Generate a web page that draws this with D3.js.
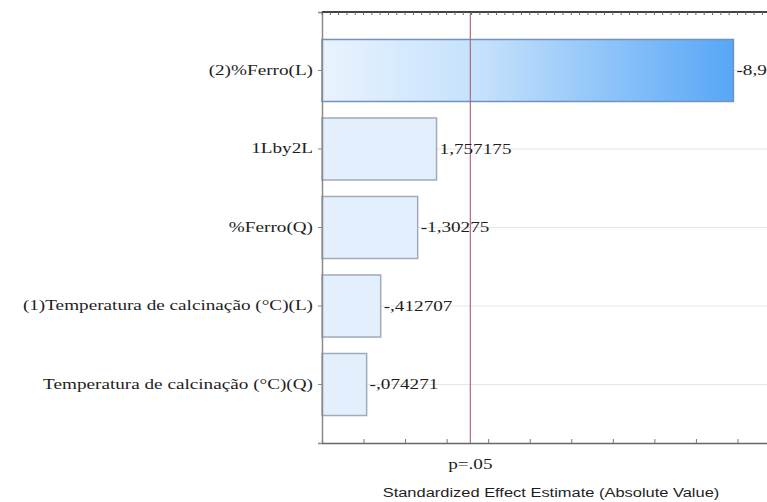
<!DOCTYPE html>
<html>
<head>
<meta charset="utf-8">
<script src="https://cdn.jsdelivr.net/npm/d3@7"></script>
<style>
  html, body { margin: 0; padding: 0; background: #fff; overflow: hidden; }
  svg { display: block; }
</style>
</head>
<body>
<svg id="chart" width="767" height="502"></svg>
<script>
// Pareto chart of standardized effects
const effects = [
  "(2)%Ferro(L)",
  "1Lby2L",
  "%Ferro(Q)",
  "(1)Temperatura de calcinação (°C)(L)",
  "Temperatura de calcinação (°C)(Q)"
];
const estimates = [-8.90342, 1.757175, -1.30275, -0.412707, -0.074271];
const pCritical = 2.5706;          // t critical value at p = .05
const pLabel = "p=.05";
const xTitle = "Standardized Effect Estimate (Absolute Value)";
const xDomain = [-1, 10];
const xMajorTicks = d3.range(-1, 11, 1);
const xMinorTicks = d3.range(-1, 10.01, 0.2);

const plot = { left: 322, right: 779, top: 12, bottom: 443 };
const STRETCH = 1.37;   // horizontal text stretch
const TEXT = "#1e1e1e";

const svg = d3.select("#chart");

const x = d3.scaleLinear().domain(xDomain).range([plot.left, plot.right]);
const y = d3.scaleBand().domain(effects)
  .range([plot.top, plot.bottom])
  .paddingInner(0.21).paddingOuter(0.35);

function stretchText(sel) {
  sel.each(function () {
    const len = this.getComputedTextLength();
    d3.select(this).attr("textLength", len * STRETCH).attr("lengthAdjust", "spacingAndGlyphs");
  });
}

function fmt(v) {
  return String(v).replace(/^(-?)0\./, "$1.").replace(".", ",");
}

// gradient for the dominant bar
const defs = svg.append("defs");
const grad = defs.append("linearGradient").attr("id", "barGrad")
  .attr("x1", "0%").attr("x2", "100%").attr("y1", "0%").attr("y2", "0%");
grad.append("stop").attr("offset", "0%").attr("stop-color", "#e9f3fe");
grad.append("stop").attr("offset", "40%").attr("stop-color", "#c3e0fc");
grad.append("stop").attr("offset", "100%").attr("stop-color", "#57a6f6");

// horizontal grid lines at each effect
svg.append("g").selectAll("line").data(effects).join("line")
  .attr("x1", plot.left).attr("x2", plot.right)
  .attr("y1", d => y(d) + y.bandwidth() / 2).attr("y2", d => y(d) + y.bandwidth() / 2)
  .attr("stroke", "#e6e6e6").attr("stroke-width", 1);

// bars
const rows = effects.map((e, i) => ({ effect: e, value: estimates[i] }));
svg.append("g").selectAll("rect").data(rows).join("rect")
  .attr("x", x(xDomain[0]))
  .attr("y", d => y(d.effect))
  .attr("width", d => x(Math.abs(d.value)) - x(xDomain[0]))
  .attr("height", y.bandwidth())
  .attr("fill", (d, i) => i === 0 ? "url(#barGrad)" : "#e3effc")
  .attr("stroke", (d, i) => i === 0 ? "#6f93bd" : "#9fabb9")
  .attr("stroke-width", 1.5);

// critical value line
svg.append("line")
  .attr("x1", x(pCritical)).attr("x2", x(pCritical))
  .attr("y1", plot.top).attr("y2", plot.bottom)
  .attr("stroke", "#b4687e").attr("stroke-width", 1.2);

// value labels
svg.append("g").selectAll("text").data(rows).join("text")
  .attr("x", d => x(Math.abs(d.value)) + 3)
  .attr("y", d => y(d.effect) + y.bandwidth() / 2)
  .attr("dy", "0.35em")
  .attr("font-family", "Liberation Serif, Times New Roman, serif")
  .attr("font-size", 14)
  .attr("fill", TEXT)
  .text(d => fmt(d.value))
  .call(stretchText);

// left axis
const yAxis = svg.append("g").attr("transform", `translate(${plot.left},0)`)
  .call(d3.axisLeft(y).tickSize(4).tickPadding(5));
yAxis.select(".domain").attr("stroke", "#8a8a8a").attr("stroke-width", 1.5);
yAxis.selectAll(".tick line").attr("stroke", "#8a8a8a");
yAxis.selectAll(".tick text")
  .attr("font-family", "Liberation Serif, Times New Roman, serif")
  .attr("font-size", 14).attr("fill", TEXT)
  .call(stretchText);

// top frame axis
const topAxis = svg.append("g").attr("transform", `translate(0,${plot.top})`);
topAxis.append("line").attr("x1", plot.left).attr("x2", plot.right)
  .attr("y1", 0).attr("y2", 0).attr("stroke", "#444").attr("stroke-width", 2);
topAxis.selectAll("line.minor").data(xMinorTicks).join("line").attr("class", "minor")
  .attr("x1", d => x(d)).attr("x2", d => x(d)).attr("y1", 0).attr("y2", 3)
  .attr("stroke", "#666");

// bottom axis
const xAxis = svg.append("g").attr("transform", `translate(0,${plot.bottom})`)
  .call(d3.axisBottom(x).tickValues(xMajorTicks).tickSizeInner(-4).tickSizeOuter(0).tickFormat(""));
xAxis.select(".domain").attr("stroke", "#666").attr("stroke-width", 1.5);
xAxis.selectAll(".tick line").attr("stroke", "#777");

svg.append("text")
  .attr("x", x(pCritical)).attr("y", plot.bottom + 26)
  .attr("text-anchor", "middle")
  .attr("font-family", "Liberation Serif, Times New Roman, serif")
  .attr("font-size", 14).attr("fill", TEXT)
  .text(pLabel).call(stretchText);

svg.append("text")
  .attr("x", 551).attr("y", plot.bottom + 54)
  .attr("text-anchor", "middle")
  .attr("font-family", "Liberation Sans, Arial, sans-serif")
  .attr("font-size", 12).attr("fill", TEXT)
  .text(xTitle).call(stretchText);
</script>
</body>
</html>
